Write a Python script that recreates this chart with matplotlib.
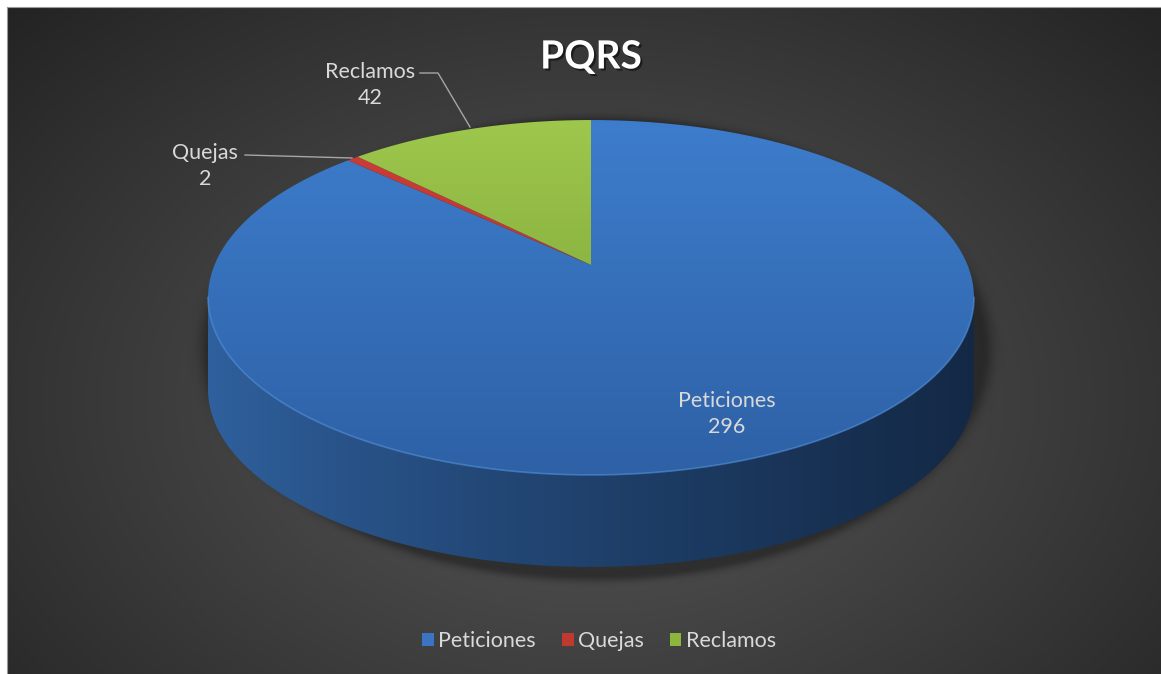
import numpy as np
import matplotlib
matplotlib.use('Agg')
import matplotlib.pyplot as plt
from matplotlib.patches import Polygon, Rectangle, Patch
import matplotlib.patheffects as pe

# ---------------- data ----------------
categories = ['Peticiones', 'Quejas', 'Reclamos']
values = [296, 2, 42]
chart_title = 'PQRS'

# ---------------- style ----------------
W, H = 1161, 674
FONT = ['Lato', 'DejaVu Sans']
top_cols = [((0.24, 0.49, 0.80), (0.18, 0.38, 0.65)),
            ((0.80, 0.24, 0.22), (0.70, 0.18, 0.17)),
            ((0.62, 0.78, 0.30), (0.45, 0.61, 0.20))]
legend_cols = ['#3a74c2', '#c0392f', '#8cb63c']
label_col = '#d9d9d9'

fig = plt.figure(figsize=(W / 100, H / 100), dpi=100)
fig.patch.set_facecolor('#2a2a2a')
ax = fig.add_axes([0, 0, 1, 1])
ax.set_axis_off()

def grad_image(img, clip):
    im = ax.imshow(img, extent=(0, W, H, 0), origin='upper', aspect='auto',
                   interpolation='bilinear')
    im.set_clip_path(clip)
    return im

yy, xx = np.mgrid[0:H, 0:W].astype(float)

# background radial gradient
r = np.sqrt(((xx - 590) / 800) ** 2 + ((yy - 400) / 560) ** 2)
r = np.clip(r, 0, 1) ** 1.1
v = 0.34 - 0.20 * r
bg = np.dstack([v, v, v])
im_bg = ax.imshow(bg, extent=(0, W, H, 0), origin='upper', aspect='auto',
                  interpolation='bilinear')
# white page margins on top and left
ax.add_patch(Rectangle((-5, -5), W + 10, 12, facecolor='white', edgecolor='none', zorder=0.5))
ax.add_patch(Rectangle((-5, -5), 12, H + 10, facecolor='white', edgecolor='none', zorder=0.5))
ax.plot([7, W + 5], [7, 7], color='#9a9a9a', lw=0.8, zorder=0.6)
ax.plot([7, 7], [7, H + 5], color='#9a9a9a', lw=0.8, zorder=0.6)

# ---------------- 3D pie geometry (perspective of a tilted disc) ----------------
cx, cy = 591, 265
a, b, c = 376.5, 171.5, 0.183
depth = 92

def proj(t):
    X, Z = np.cos(t), np.sin(t)
    d = 1 + c * Z
    return cx + a * X / d, cy - b * Z / d

total = float(sum(values))
cum = np.concatenate([[0], np.cumsum(values)])
angles = 90 - 360 * cum / total  # degrees, clockwise from 12 o'clock

# shadow
tt = np.linspace(0, 2 * np.pi, 400)
sx, sy = proj(tt)
ecx, ecy = (sx.max() + sx.min()) / 2, (sy.max() + sy.min() + depth) / 2 + 5
erx, ery = (sx.max() - sx.min()) / 2 + 3, (sy.max() - sy.min() + depth) / 2 + 3
dist = np.sqrt(((xx - ecx - 5) / erx) ** 2 + ((yy - ecy) / ery) ** 2)
alpha = 0.35 * np.exp(-np.clip(dist - 1, 0, None) ** 2 / 0.0008)
alpha[dist < 1] = 0.35
sh = np.zeros((H, W, 4))
sh[..., 3] = alpha
ax.imshow(sh, extent=(0, W, H, 0), origin='upper', aspect='auto', interpolation='bilinear',
          zorder=1)

# side wall (front visible part)
t_left = np.pi + np.arcsin(c)
t_right = 2 * np.pi - np.arcsin(c)
front_lo, front_hi = np.degrees(t_left) - 360, np.degrees(t_right) - 360
side_grad_x = np.clip((xx - 208) / (973 - 208), 0, 1)
for i in range(len(values)):
    hi, lo = angles[i], angles[i + 1]
    for k in (-1, 0, 1):
        s0 = max(lo, front_lo + 360 * k)
        s1 = min(hi, front_hi + 360 * k)
        if s1 <= s0:
            continue
        ts = np.radians(np.linspace(s0, s1, 200))
        px, py = proj(ts)
        verts = np.concatenate([np.column_stack([px, py]),
                                np.column_stack([px[::-1], py[::-1] + depth])])
        poly = Polygon(verts, closed=True, transform=ax.transData)
        c0 = np.array(top_cols[i][0]) * 0.78
        c1 = np.array(top_cols[i][1]) * 0.42
        g = side_grad_x[..., None] ** 0.8
        img = c0 * (1 - g) + c1 * g
        im = grad_image(img, poly)
        im.set_zorder(2)

# top faces
gy = np.clip((yy - 120) / (475 - 120), 0, 1)[..., None]
for i in range(len(values)):
    hi, lo = angles[i], angles[i + 1]
    n = max(3, int(abs(hi - lo) * 3))
    ts = np.radians(np.linspace(hi, lo, n))
    px, py = proj(ts)
    verts = np.vstack([[cx, cy], np.column_stack([px, py])])
    poly = Polygon(verts, closed=True, transform=ax.transData)
    c0, c1 = np.array(top_cols[i][0]), np.array(top_cols[i][1])
    img = c0 * (1 - gy) + c1 * gy
    im = grad_image(img, poly)
    im.set_zorder(3)

# highlight along the front rim
ts = np.linspace(t_left, t_right, 300)
px, py = proj(ts)
ax.plot(px, py, color=(0.33, 0.58, 0.88), lw=1.2, alpha=0.6, zorder=4)

# ---------------- labels ----------------
lab_pos = {'Peticiones': (727, 414), 'Quejas': (205, 166), 'Reclamos': (370, 85)}
for cat, val in zip(categories, values):
    x, y = lab_pos[cat]
    ax.text(x, y, f'{cat}\n{val}', ha='center', va='center', color=label_col,
            fontsize=15.5, family=FONT, linespacing=1.35, zorder=5)

# leader lines
ax.plot([420, 438, 470], [73, 73, 127], color='#a6a6a6', lw=1, zorder=5)
ax.plot([245, 352], [155, 158], color='#a6a6a6', lw=1, zorder=5)

# title
ax.text(591, 57, chart_title, ha='center', va='center', color='white',
        fontsize=28, fontweight='bold', family=FONT, zorder=5,
        path_effects=[pe.withSimplePatchShadow(offset=(1.5, -1.5), shadow_rgbFace='black', alpha=0.5)])

# legend
handles = [Patch(facecolor=col, edgecolor='none') for col in legend_cols]
leg = fig.legend(handles, categories, loc='center', bbox_to_anchor=(599 / W, 1 - 641 / H),
                 ncol=3, frameon=False, handlelength=0.55, handleheight=0.55,
                 handletextpad=0.2, columnspacing=1.2,
                 prop=dict(family=FONT, size=15.5), labelcolor=label_col)

ax.set_xlim(0, W)
ax.set_ylim(H, 0)
fig.savefig('out.png', dpi=100, facecolor=fig.get_facecolor())
